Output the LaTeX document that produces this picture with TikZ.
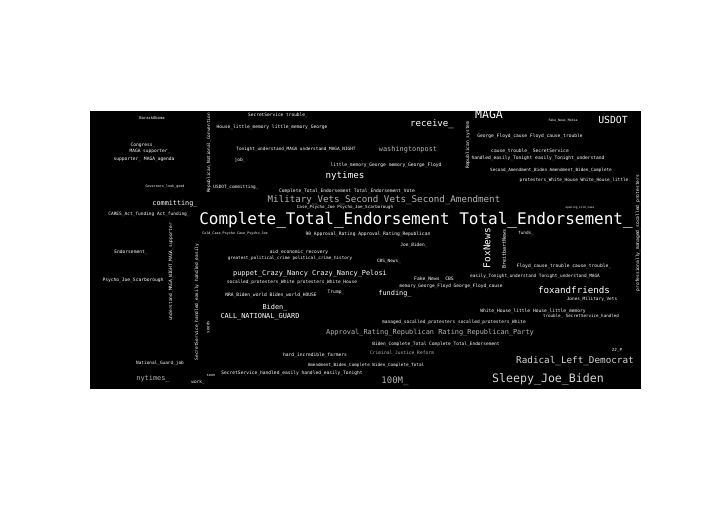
\documentclass[tikz,border=0pt]{standalone}
\usepackage{fontspec}
\newfontfamily\cloudfont{DejaVu Sans Mono}
\usepackage{tikz}
\definecolor{cloudgrey}{HTML}{B4B4B4}
\definecolor{cloudlight}{HTML}{D6D6D6}
\tikzset{
  word/.style={inner sep=0pt, text=white, font=\cloudfont\fontsize{#1}{#1}\selectfont},
  dim/.style={text=cloudgrey},
  light/.style={text=cloudlight},
}
\begin{document}
\begin{tikzpicture}[x=1pt,y=-1pt]
\useasboundingbox (0,0) rectangle (720,504);
\fill[black] (90,111) rectangle (641,389);

\node[word=16] (big) at (416,220) {Complete\_Total\_Endorsement Total\_Endorsement\_};
\node[word=9.2, dim] (vets) at (384,200) {Military\_Vets\_Second Vets\_Second\_Amendment};
\node[word=11.5] (maga) at (489,114) {MAGA};
\node[word=9.8] (usdot) at (613,120) {USDOT};
\node[word=9.1] (receive) at (432,124) {receive\_};
\node[word=6.9, dim] (wapo) at (408,150) {washingtonpost};
\node[word=9.2] (nyt) at (345,176) {nytimes};
\node[word=9.5, rotate=90] (foxnews) at (487,248) {FoxNews};
\node[word=9.2] (foxfriends) at (574,290) {foxandfriends};
\node[word=9.3, light] (radical) at (575,361) {Radical\_Left\_Democrat};
\node[word=11.6, light] (sleepy) at (548,379) {Sleepy\_Joe\_Biden};
\node[word=6.9, dim] (approval) at (430,333) {Approval\_Rating\_Republican Rating\_Republican\_Party};
\node[word=6.9] (pelosi) at (310,274) {puppet\_Crazy\_Nancy Crazy\_Nancy\_Pelosi};
\node[word=6.9] (guard) at (260,317) {CALL\_NATIONAL\_GUARD};
\node[word=6.9] (biden) at (275,308) {Biden\_};
\node[word=6.9] (funding) at (395,294) {funding\_};
\node[word=9, dim] (hundred) at (395,381) {100M\_};
\node[word=6.9, dim] (nytb) at (153,379) {nytimes\_};
\node[word=6.8] (committing) at (175,204) {committing\_};

\node[word=3.8] (obama) at (152,118) {BarackObama};
\node[word=4.6] (congress) at (143,145) {Congress\_};
\node[word=4.5] (supporter) at (150,151) {MAGA supporter\_};
\node[word=4.6] (agenda) at (144,159) {supporter\_ MAGA\_agenda};
\node[word=3.4] (governors) at (165,187) {Governors\_look\_good};
\node[word=4.4, rotate=90] (convention) at (209,153) {Republican\_National\_Convention};
\node[word=4.4] (usdotc) at (236,187) {USDOT\_committing\_};
\node[word=4.5] (secret) at (278,115) {SecretService trouble\_};
\node[word=4.6] (house) at (272,127) {House\_little\_memory little\_memory\_George};
\node[word=4.4] (tonight) at (296,149) {Tonight\_understand\_MAGA understand\_MAGA\_NIGHT};
\node[word=4.5] (job) at (240,160) {job\_};
\node[word=4.6] (george) at (386,165) {little\_memory\_George memory\_George\_Floyd};
\node[word=4.6] (vote) at (347,191) {Complete\_Total\_Endorsement Total\_Endorsement\_Vote};
\node[word=4.6, rotate=90] (system) at (468,145) {Republican\_system};
\node[word=4.6] (floyd) at (530,136) {George\_Floyd\_cause Floyd\_cause\_trouble};
\node[word=4.6] (causetr) at (530,151) {cause\_trouble\_ SecretService};
\node[word=4.6] (handled) at (538,158) {handled\_easily\_Tonight easily\_Tonight\_understand};
\node[word=4.3] (second) at (551,170) {Second\_Amendment\_Biden Amendment\_Biden\_Complete};
\node[word=4.4] (whitehouse) at (574,180) {protesters\_White\_House White\_House\_little};
\node[word=3.2] (fakemedia) at (563,121) {Fake\_News\_Media};
\node[word=4.6, rotate=90] (managed) at (638,233) {professionally\_managed\_socalled\_protesters};
\node[word=4.5] (cares) at (149,214) {CARES\_Act\_funding Act\_funding\_};
\node[word=4.5, rotate=90] (vleft) at (171,272) {understand\_MAGA\_NIGHT\_MAGA\_supporter};
\node[word=4.5, rotate=90] (vmid) at (197,302) {SecretService\_handled\_easily handled\_easily};
\node[word=4.6] (endorse) at (131,252) {Endorsement\_};
\node[word=4.6] (scar) at (133,280) {Psycho\_Joe\_Scarborough};
\node[word=3.4] (coldcase) at (235,234) {Cold\_Case\_Psycho Case\_Psycho\_Joe};
\node[word=4.2] (psycho) at (345,207) {Case\_Psycho\_Joe Psycho\_Joe\_Scarborough};
\node[word=4.6] (rating) at (368,234) {90\_Approval\_Rating Approval\_Rating\_Republican};
\node[word=4.6] (aid) at (299,252) {aid\_economic\_recovery};
\node[word=4.3] (crime) at (290,258) {greatest\_political\_crime political\_crime\_history};
\node[word=4.5] (joebiden) at (414,245) {Joe\_Biden\_};
\node[word=4.4] (cbs) at (389,261) {CBS\_News\_};
\node[word=4.5] (socalled) at (292,282) {socalled\_protesters\_White protesters\_White\_House};
\node[word=4.6] (nra) at (271,295) {NRA\_Biden\_world Biden\_world\_HOUSE};
\node[word=4.6] (trump) at (336,292) {Trump\_};
\node[word=4.7] (fakecbs) at (434,279) {Fake\_News\_ CBS};
\node[word=4.5] (memory) at (451,286) {memory\_George\_Floyd George\_Floyd\_cause};
\node[word=4.4] (easily) at (535,276) {easily\_Tonight\_understand Tonight\_understand\_MAGA};
\node[word=4.6] (trouble) at (564,266) {Floyd\_cause\_trouble cause\_trouble\_};
\node[word=4.4] (funds) at (526,233) {funds\_};
\node[word=5, rotate=90] (breitbart) at (504,249) {BreitbartNews};
\node[word=2.8] (opening) at (580,208) {opening\_Cold\_Case};
\node[word=4.4] (jones) at (592,299) {Jones\_Military\_Vets};
\node[word=4.6] (little) at (533,311) {White\_House\_little House\_little\_memory};
\node[word=4.2] (tsecret) at (581,316) {trouble\_ SecretService\_handled};
\node[word=4.5] (protesters) at (454,322) {managed\_socalled\_protesters socalled\_protesters\_White};
\node[word=4.5] (complete) at (436,344) {Biden\_Complete\_Total Complete\_Total\_Endorsement};
\node[word=4.6, dim] (justice) at (402,353) {Criminal\_Justice\_Reform};
\node[word=4.3] (amend) at (366,365) {Amendment\_Biden\_Complete Biden\_Complete\_Total};
\node[word=4.6] (farmers) at (315,355) {hard\_incredible\_farmers};
\node[word=4.6] (easilyb) at (292,373) {SecretService\_handled\_easily handled\_easily\_Tonight};
\node[word=4.4] (work) at (198,382) {work\_};
\node[word=3.6] (soon) at (211,376) {soon};
\node[word=4.4] (natguard) at (160,363) {National\_Guard\_job};
\node[word=4.2] (twentytwo) at (617,350) {22\_P};
\node[word=4, rotate=90] (seen) at (208,327) {seeds};
\end{tikzpicture}
\end{document}
